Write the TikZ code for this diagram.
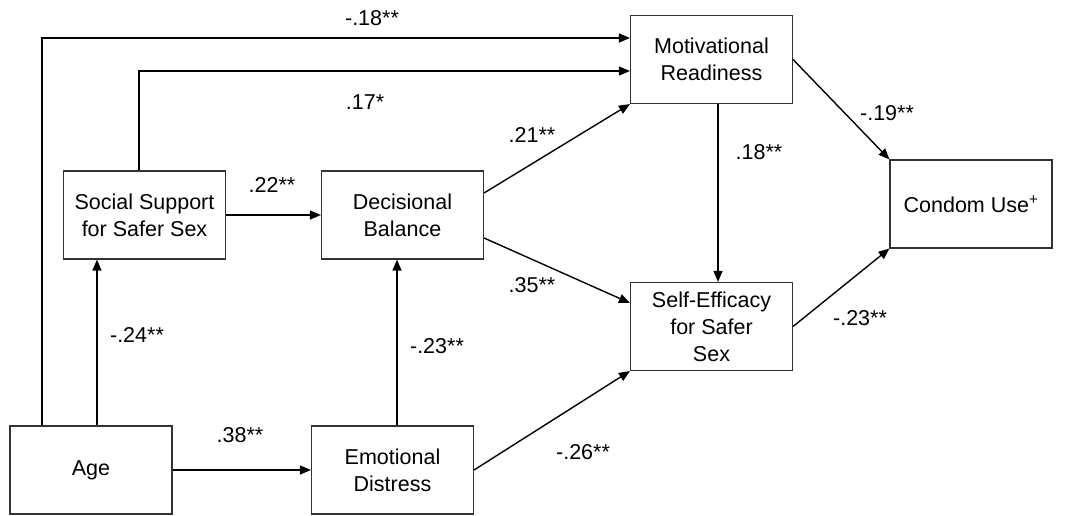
\documentclass[tikz,border=0pt]{standalone}
\usepackage{fontspec}
\setmainfont{Liberation Sans}
\usetikzlibrary{arrows.meta,calc}

\begin{document}
\begin{tikzpicture}[x=1pt, y=-1pt,
    var/.style={draw, line width=1.1pt, draw=black!80, minimum width=162pt, minimum height=88pt, inner sep=0pt, align=center, font=\fontsize{21.5}{27}\selectfont},
    path/.style={line width=1.4pt, -{Triangle[length=11pt,width=9pt]}},
    coef/.style={font=\fontsize{21.5}{25}\selectfont}]
    \useasboundingbox (0,0) rectangle (1066,516);

    \node[var] (age) at (91,470) {Age};
    \node[var] (ed) at (392.5,470) {Emotional\\Distress};
    \node[var] (ss) at (144.5,215) {Social Support\\for Safer Sex};
    \node[var] (db) at (402.5,215) {Decisional\\Balance};
    \node[var] (mr) at (711.5,59.5) {Motivational\\Readiness};
    \node[var] (se) at (711.5,326.5) {Self-Efficacy\\for Safer\\Sex};
    \node[var] (cu) at (971,204) {Condom Use\textsuperscript{+}};

    \draw[path] ([xshift=-49pt]age.north) |- ([yshift=21.5pt]mr.west);
    \draw[path] ([xshift=-5.5pt]ss.north) |- ([yshift=-11.5pt]mr.west);
    \draw[path] ([xshift=6pt]age.north) -- ([xshift=6pt]age.north |- ss.south);
    \draw[path] ([xshift=4.5pt]ed.north) -- ([xshift=4.5pt]ed.north |- db.south);
    \draw[path] (age.east) -- (ed.west);
    \draw[path] (ss.east) -- (db.west);
    \draw[path] ([yshift=22pt]db.east) -- (mr.south west);
    \draw[path] ([yshift=-23pt]db.east) -- ([yshift=23.5pt]se.west);
    \draw[path] (ed.east) -- (se.south west);
    \draw[path] ([xshift=6.5pt]mr.south) -- ([xshift=6.5pt]mr.south |- se.north);
    \draw[path] (mr.east) -- (cu.north west);
    \draw[path] (se.east) -- (cu.south west);

    \node[coef] (c1) at (372,18) {-.18**};
    \node[coef] (c2) at (365,102) {.17*};
    \node[coef] (c3) at (272,185) {.22**};
    \node[coef] (c4) at (532,135) {.21**};
    \node[coef] (c5) at (532,285) {.35**};
    \node[coef] (c6) at (887,113) {-.19**};
    \node[coef] (c7) at (759,152) {.18**};
    \node[coef] (c8) at (137,335) {-.24**};
    \node[coef] (c9) at (437,346) {-.23**};
    \node[coef] (c10) at (240,435) {.38**};
    \node[coef] (c11) at (583,452) {-.26**};
    \node[coef] (c12) at (860,318) {-.23**};
\end{tikzpicture}
\end{document}
